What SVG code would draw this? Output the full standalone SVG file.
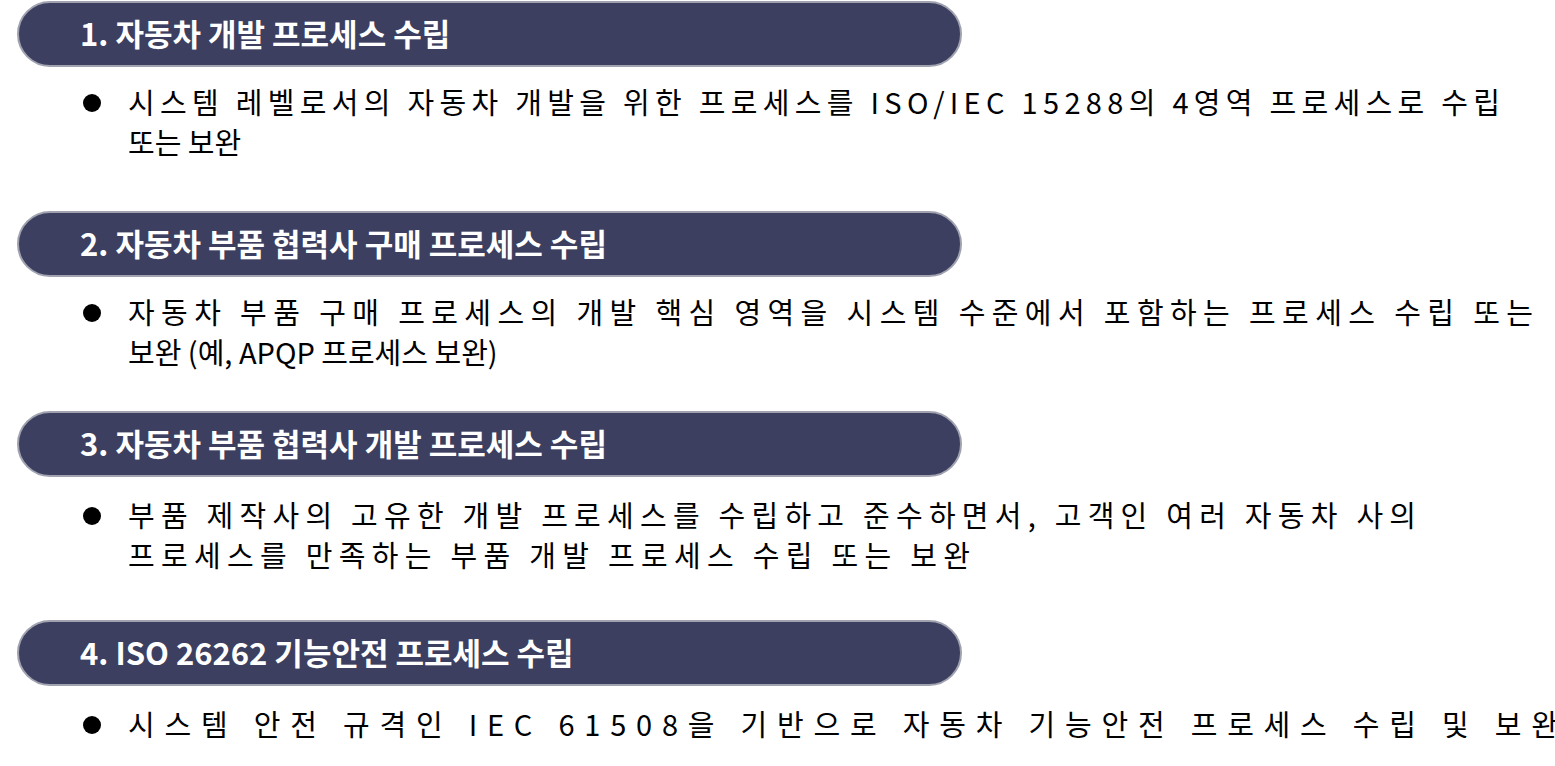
<svg xmlns="http://www.w3.org/2000/svg" width="1555" height="766" viewBox="0 0 1555 766">
<style>
.pill{fill:#3c3f5f;stroke:#a0a2b0;stroke-width:2}
.t{font-family:"Noto Sans CJK KR","Noto Sans",sans-serif;font-weight:bold;font-size:31px;fill:#fff}
.b{font-family:"Noto Sans CJK KR","Noto Sans",sans-serif;font-size:29px;fill:#000}
</style>
<rect width="1555" height="766" fill="#fff"/>
<g id="n1"><rect class="pill" x="18" y="2" width="943" height="64" rx="32"/><text class="t" x="80" y="46">1. 자동차 개발 프로세스 수립</text>
<circle cx="92" cy="103" r="9"/><text class="b" x="128" y="114" textLength="1372">시스템 레벨로서의 자동차 개발을 위한 프로세스를 ISO/IEC 15288의 4영역 프로세스로 수립</text><text class="b" x="128" y="154">또는 보완</text></g>
<g id="n2"><rect class="pill" x="18" y="212" width="943" height="64" rx="32"/><text class="t" x="80" y="256">2. 자동차 부품 협력사 구매 프로세스 수립</text>
<circle cx="92" cy="313" r="9"/><text class="b" x="128" y="324" textLength="1405">자동차 부품 구매 프로세스의 개발 핵심 영역을 시스템 수준에서 포함하는 프로세스 수립 또는</text><text class="b" x="128" y="364">보완 (예, APQP 프로세스 보완)</text></g>
<g id="n3"><rect class="pill" x="18" y="412" width="943" height="64" rx="32"/><text class="t" x="80" y="456">3. 자동차 부품 협력사 개발 프로세스 수립</text>
<circle cx="92" cy="516" r="9"/><text class="b" x="128" y="527" textLength="1288">부품 제작사의 고유한 개발 프로세스를 수립하고 준수하면서, 고객인 여러 자동차 사의</text><text class="b" x="128" y="567" textLength="842">프로세스를 만족하는 부품 개발 프로세스 수립 또는 보완</text></g>
<g id="n4"><rect class="pill" x="18" y="621" width="943" height="64" rx="32"/><text class="t" x="80" y="665">4. ISO 26262 기능안전 프로세스 수립</text>
<circle cx="92" cy="725" r="9"/><text class="b" x="128" y="736" textLength="1430">시스템 안전 규격인 IEC 61508을 기반으로 자동차 기능안전 프로세스 수립 및 보완</text></g>
<g id="connectors"/>
</svg>
